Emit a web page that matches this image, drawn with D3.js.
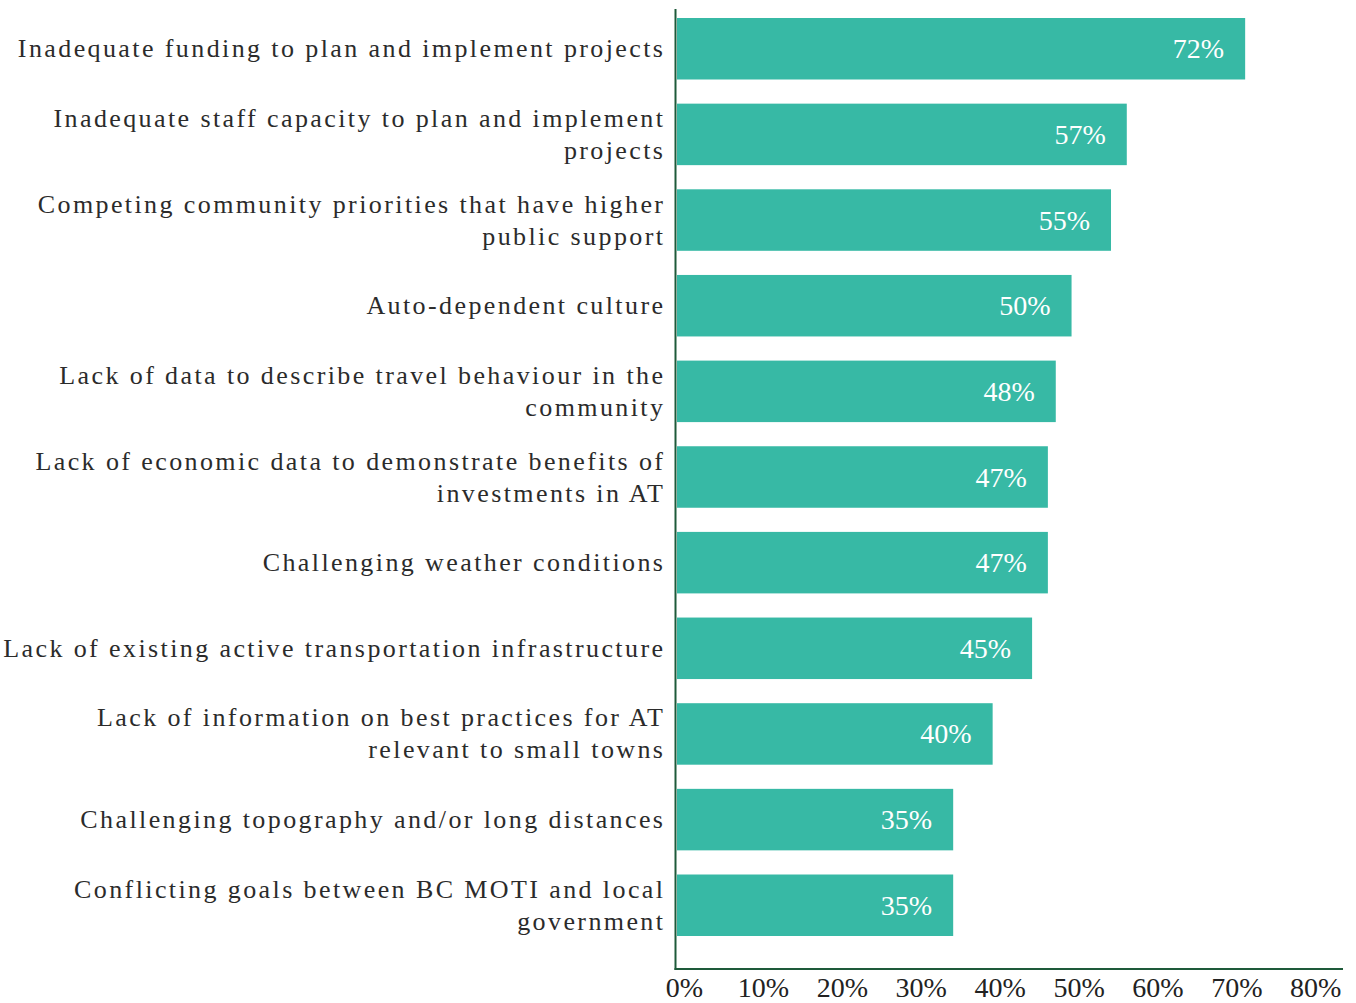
<!DOCTYPE html>
<html>
<head>
<meta charset="utf-8">
<script src="https://cdn.jsdelivr.net/npm/d3@7/dist/d3.min.js"></script>
<style>
  html, body { margin: 0; padding: 0; background: #ffffff; }
  svg { display: block; }
</style>
</head>
<body>
<svg id="chart" width="1356" height="1003"></svg>
<script>
// Barriers to active transportation, share of respondents (%)
const categories = [
  "Inadequate funding to plan and implement projects",
  "Inadequate staff capacity to plan and implement\nprojects",
  "Competing community priorities that have higher\npublic support",
  "Auto-dependent culture",
  "Lack of data to describe travel behaviour in the\ncommunity",
  "Lack of economic data to demonstrate benefits of\ninvestments in AT",
  "Challenging weather conditions",
  "Lack of existing active transportation infrastructure",
  "Lack of information on best practices for AT\nrelevant to small towns",
  "Challenging topography and/or long distances",
  "Conflicting goals between BC MOTI and local\ngovernment"
];
const values = [72, 57, 55, 50, 48, 47, 47, 45, 40, 35, 35];
const tickValues = [0, 10, 20, 30, 40, 50, 60, 70, 80];
const tickLabels = ["0%", "10%", "20%", "30%", "40%", "50%", "60%", "70%", "80%"];

const barColor = "#37b9a5";
const axisColor = "#1e5a3a";
const textColor = "#2b2b2b";
const serif = "'Liberation Serif', 'Times New Roman', serif";

const svg = d3.select("#chart");

const plotLeft = 677, plotRight = 1343;
const axisTop = 9, axisBottom = 969;

const x = d3.scaleLinear().domain([0, 84.4]).range([plotLeft, plotRight]);
const y = d3.scaleBand()
  .domain(categories)
  .range([18, 936])
  .paddingInner(0.282)
  .paddingOuter(0);

// bars
svg.append("g")
  .selectAll("rect")
  .data(values)
  .join("rect")
  .attr("x", x(0))
  .attr("y", (d, i) => y(categories[i]))
  .attr("width", d => x(d) - x(0))
  .attr("height", y.bandwidth())
  .attr("fill", barColor);

// value labels inside the bar ends
svg.append("g")
  .selectAll("text")
  .data(values)
  .join("text")
  .attr("x", d => x(d) - 21)
  .attr("y", (d, i) => y(categories[i]) + y.bandwidth() / 2)
  .attr("text-anchor", "end")
  .attr("dominant-baseline", "central")
  .attr("font-family", serif)
  .attr("font-size", 28)
  .attr("fill", "#ffffff")
  .text(d => d + "%");

// category labels, right-aligned against the axis
const ls = 2.4;
const lineH = 32;
const catG = svg.append("g")
  .attr("font-family", serif)
  .attr("font-size", 26)
  .attr("letter-spacing", ls)
  .attr("fill", textColor)
  .attr("text-anchor", "end");

categories.forEach(c => {
  const lines = c.split("\n");
  const cy = y(c) + y.bandwidth() / 2;
  const firstBase = cy - (lines.length - 1) * lineH / 2 + 8.5;
  const t = catG.append("text");
  lines.forEach((ln, k) => {
    t.append("tspan")
      .attr("x", 663 + ls)
      .attr("y", firstBase + k * lineH)
      .text(ln);
  });
});

// vertical axis line
svg.append("line")
  .attr("x1", plotLeft - 1.5).attr("x2", plotLeft - 1.5)
  .attr("y1", axisTop).attr("y2", axisBottom + 1)
  .attr("stroke", axisColor)
  .attr("stroke-width", 2);

// bottom axis
const xAxis = d3.axisBottom(x)
  .tickValues(tickValues)
  .tickFormat((d, i) => tickLabels[i])
  .tickSize(0)
  .tickPadding(0);

const gx = svg.append("g")
  .attr("transform", `translate(0,${axisBottom})`)
  .call(xAxis);

gx.select(".domain")
  .attr("d", `M${plotLeft - 2.5},0H${plotRight}`)
  .attr("stroke", axisColor)
  .attr("stroke-width", 2);

gx.selectAll(".tick text")
  .attr("dx", 7)
  .attr("y", 28)
  .attr("dy", 0)
  .attr("font-family", serif)
  .attr("font-size", 28)
  .attr("fill", "#222222");
</script>
</body>
</html>
